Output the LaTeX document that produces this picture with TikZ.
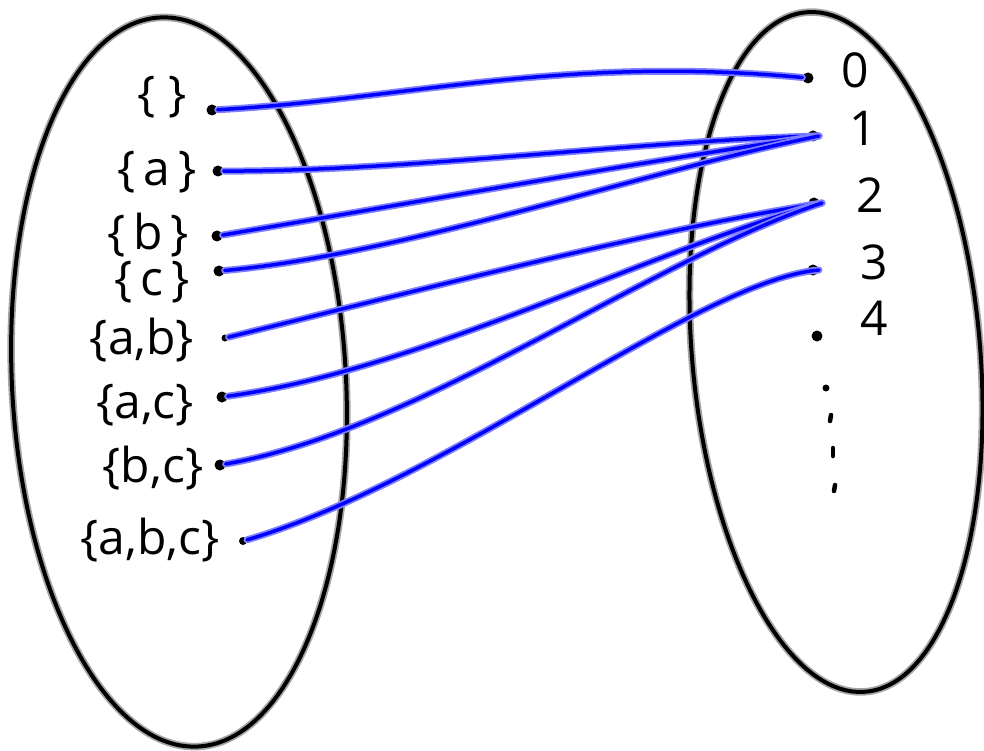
\documentclass[tikz,border=0pt]{standalone}
\usepackage{fontspec}
\setmainfont{Open Sans}
\usepackage{tikz}
\usetikzlibrary{calc}

\tikzset{
	rim/.style={black, line width=4pt, preaction={draw=gray!70, line width=7.5pt}},
	arr/.style={blue, line width=3.5pt, line cap=round, preaction={draw=blue!50, line width=7pt, line cap=round}},
	lab/.style={font=\fontsize{48}{52}\selectfont, inner sep=0pt},
	pt/.style={circle, fill=black, inner sep=0pt, minimum size=11pt},
}

\begin{document}
\begin{tikzpicture}[x=1pt,y=-1pt]
	
	\useasboundingbox (0,0) rectangle (984,751);
	
	\draw[rim, rotate around={3:(179,382)}] (179,382) ellipse [x radius=167pt, y radius=365pt];
	\draw[rim, rotate around={5:(836,352)}] (836,352) ellipse [x radius=144pt, y radius=341pt];
	
	\node[lab] (e) at (162,97) {\{\;\}};
	\node[lab] (sa) at (157,172) {\{\,a\,\}};
	\node[lab] (sb) at (148,235) {\{\,b\,\}};
	\node[lab] (sc) at (152,282) {\{\,c\,\}};
	\node[lab] (sab) at (142,340) {\{a,b\}};
	\node[lab] (sac) at (145,405) {\{a,c\}};
	\node[lab] (sbc) at (153,468) {\{b,c\}};
	\node[lab] (sabc) at (150,540) {\{a,b,c\}};
	
	\node[pt] (de) at (212,110) {};
	\node[pt] (da) at (218,171) {};
	\node[pt] (db) at (217,236) {};
	\node[pt] (dc) at (219,271) {};
	\node[pt, minimum size=7pt] (dab) at (225,338) {};
	\node[pt] (dac) at (222,397) {};
	\node[pt] (dbc) at (220,465) {};
	\node[pt, minimum size=8pt] (dabc) at (243,541) {};
	
	\node[lab] (k0) at (855,70) {0};
	\node[lab] (k1) at (863,128) {1};
	\node[lab] (k2) at (870,195) {2};
	\node[lab] (k3) at (874,262) {3};
	\node[lab] (k4) at (874,318) {4};
	
	\node[pt] (n0) at (808,78) {};
	\node[pt] (n1) at (813,136) {};
	\node[pt] (n2) at (814,203) {};
	\node[pt] (n3) at (813,270) {};
	\node[pt] (n4) at (817,336) {};
	
	\node[pt, minimum size=7pt] (m1) at (826,388) {};
	\draw[line width=4.5pt, line cap=round] (831,415) -- (830,421);
	\draw[line width=4.5pt, line cap=round] (833,448) -- (833,456);
	\draw[line width=4.5pt, line cap=round] (835,485) -- (834,491);
	
	\draw[arr] (de) .. controls (400,100) and (560,55) .. (n0);
	\draw[arr] (da) .. controls (400,172) and (650,140) .. ($(n1)+(6,0)$);
	\draw[arr] (db) .. controls (400,205) and (650,160) .. ($(n1)+(6,0)$);
	\draw[arr] (dc) .. controls (400,255) and (650,170) .. ($(n1)+(6,0)$);
	\draw[arr] (dab) .. controls (400,295) and (650,230) .. ($(n2)+(8,0)$);
	\draw[arr] (dac) .. controls (420,370) and (650,250) .. ($(n2)+(8,0)$);
	\draw[arr] (dbc) .. controls (420,430) and (650,260) .. ($(n2)+(8,0)$);
	\draw[arr] (dabc) .. controls (450,480) and (700,280) .. ($(n3)+(6,0)$);
	
\end{tikzpicture}
\end{document}
